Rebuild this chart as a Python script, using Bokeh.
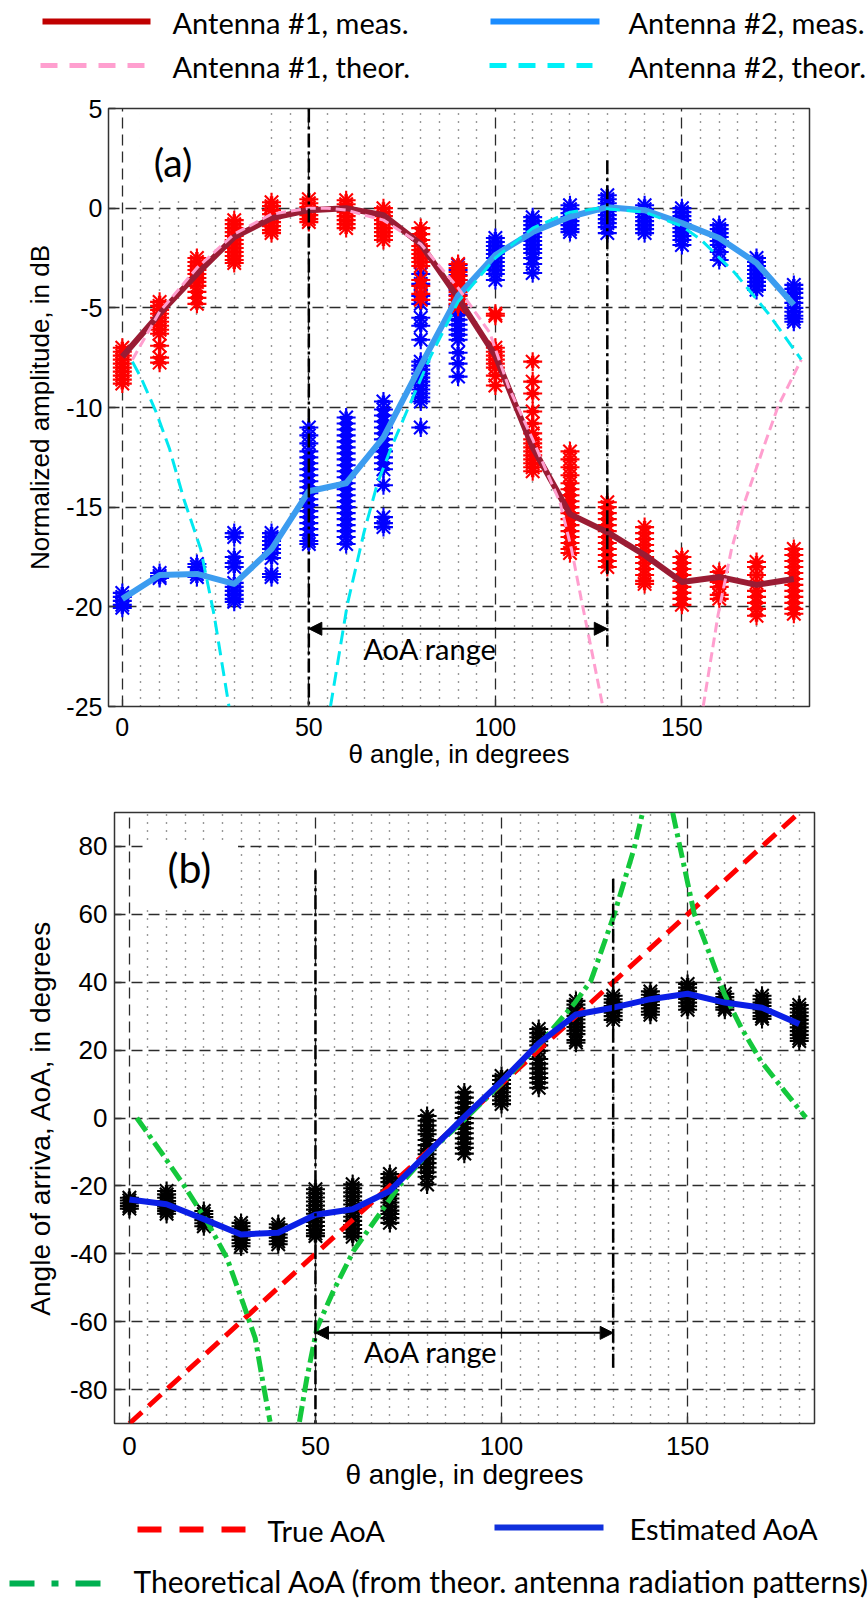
from bokeh.plotting import figure
from bokeh.models import Range1d, FixedTicker, Label, Arrow, NormalHead, BoxAnnotation
from bokeh.embed import file_html
from bokeh.resources import INLINE
from bokeh.core.properties import value

# ---------------- data ----------------
THETA = [0, 10, 20, 30, 40, 50, 60, 70, 80, 90, 100, 110, 120, 130, 140, 150, 160, 170, 180]

ANT1_MEAS = [-7.45, -5.3, -3.3, -1.45, -0.5, -0.1, 0.0, -0.35, -1.8, -4.5, -7.4, -12.0,
             -15.35, -16.25, -17.4, -18.75, -18.5, -18.9, -18.6]
ANT2_MEAS = [-19.6, -18.4, -18.35, -18.85, -17.1, -14.2, -13.8, -11.5, -7.9, -4.4, -2.35,
             -1.2, -0.43, 0.05, -0.1, -0.75, -1.5, -2.75, -4.85]

ANT1_THEOR_A_T = [2.7, 10, 20, 30, 40, 50, 55, 60, 70, 80, 90, 98.5, 103.5, 110, 117.3, 120.4, 123, 125.7, 128.8]
ANT1_THEOR_A_V = [-7.6, -5.2, -3.0, -1.3, -0.3, 0.0, 0.0, -0.1, -0.6, -1.8, -4.0, -6.25, -8.95, -11.6,
                  -14.75, -17.1, -19.6, -22.1, -25.0]
ANT1_THEOR_B_T = [155.7, 159.7, 163.3, 166.8, 171.7, 175.8, 182]
ANT1_THEOR_B_V = [-25.0, -20.4, -17.1, -14.75, -12.1, -9.93, -7.6]

ANT2_THEOR_A_T = [2.7, 5, 9, 12.7, 16.5, 21, 24.6, 28.6]
ANT2_THEOR_A_V = [-7.7, -8.5, -10.2, -12.1, -14.6, -17.1, -20.4, -25.0]
ANT2_THEOR_B_T = [55.8, 60.3, 64.8, 68.4, 71.9, 76, 82.6, 90, 100, 110, 120, 128, 140, 150, 155.2, 164.2, 173.1, 182]
ANT2_THEOR_B_V = [-25.0, -19.9, -16.25, -13.8, -12.1, -10.3, -7.45, -4.7, -2.5, -1.0, -0.2, 0.0, -0.2,
                  -0.9, -1.6, -3.25, -5.27, -7.6]

ANT1_SCATTER = [
    [-7.0, -7.2, -7.4, -7.6, -7.8, -8.0, -8.2, -8.4, -8.6, -8.8],
    [-4.7, -4.9, -5.1, -5.3, -5.5, -5.7, -5.9, -6.1, -6.3, -6.9, -7.5, -7.75],
    [-2.5, -2.7, -2.9, -3.1, -3.3, -3.5, -3.7, -3.9, -4.2, -4.5, -4.8],
    [-0.6, -0.8, -1.0, -1.2, -1.4, -1.6, -1.8, -2.0, -2.2, -2.4, -2.6, -2.75],
    [0.3, 0.1, -0.1, -0.3, -0.5, -0.7, -0.9, -1.1, -1.25],
    [0.45, 0.25, 0.05, -0.15, -0.35, -0.55, -0.7],
    [0.4, 0.2, 0.0, -0.2, -0.4, -0.6, -0.8, -1.0],
    [0.0, -0.2, -0.4, -0.6, -0.8, -1.0, -1.2, -1.4, -1.6],
    [-1.0, -1.3, -1.6, -1.9, -2.1, -2.3, -2.5, -2.7, -2.9, -3.6, -3.9, -4.3, -4.6],
    [-2.8, -3.0, -3.2, -3.4, -3.6, -3.8, -4.0, -4.2, -4.4, -4.6, -4.8, -4.95],
    [-5.3, -5.4, -7.0, -7.2, -7.4, -7.6, -7.8, -8.0, -8.4, -8.9],
    [-7.7, -8.7, -9.3, -10.2, -10.8, -11.3, -11.6, -11.8, -12.0, -12.2, -12.4, -12.6, -12.8, -13.0, -13.2],
    [-12.2, -12.6, -13.0, -13.4, -13.8, -14.1, -14.4, -14.7, -15.0, -15.3, -15.6, -15.9, -16.2, -16.5,
     -16.8, -17.1, -17.3],
    [-14.75, -15.0, -15.3, -15.6, -15.9, -16.2, -16.5, -16.8, -17.1, -17.4, -17.7, -18.0],
    [-16.0, -16.3, -16.6, -16.9, -17.2, -17.5, -17.8, -18.1, -18.4, -18.7, -18.85],
    [-17.5, -17.8, -18.1, -18.4, -18.7, -19.0, -19.3, -19.6, -19.9],
    [-18.25, -18.5, -18.75, -19.0, -19.4, -19.6],
    [-17.75, -18.0, -18.4, -18.8, -19.2, -19.5, -19.8, -20.1, -20.45],
    [-17.1, -17.4, -17.7, -18.0, -18.3, -18.6, -18.9, -19.2, -19.5, -19.8, -20.1, -20.35],
]

ANT2_SCATTER = [
    [-19.3, -19.5, -19.7, -19.9, -20.05],
    [-18.3, -18.45, -18.55],
    [-17.85, -18.0, -18.35, -18.5],
    [-16.3, -16.5, -17.5, -17.8, -18.0, -18.8, -19.0, -19.2, -19.4, -19.6, -19.75],
    [-16.3, -16.5, -16.7, -16.9, -17.1, -17.3, -17.55, -18.35, -18.5],
    [-11.0, -11.4, -11.8, -12.2, -12.5, -12.8, -13.1, -13.4, -13.7, -14.0, -14.3, -14.6, -14.9, -15.2,
     -15.5, -15.8, -16.1, -16.4, -16.7, -16.85],
    [-10.5, -10.8, -11.1, -11.4, -11.7, -12.0, -12.3, -12.6, -12.9, -13.2, -13.5, -13.8, -14.1, -14.4,
     -14.7, -15.0, -15.3, -15.6, -15.9, -16.2, -16.5, -16.85],
    [-9.7, -10.1, -10.4, -10.7, -11.0, -11.3, -11.6, -11.9, -12.2, -12.5, -12.8, -13.1, -13.9, -15.5,
     -15.8, -16.0],
    [-3.3, -3.8, -4.4, -4.8, -5.5, -5.9, -6.6, -7.7, -7.9, -8.1, -8.3, -8.5, -8.7, -8.9, -9.1, -9.3,
     -9.5, -9.7, -11.0],
    [-2.85, -3.1, -3.35, -3.6, -3.85, -4.1, -4.35, -4.6, -4.85, -5.1, -5.35, -5.6, -5.85, -6.1, -6.35,
     -6.6, -7.25, -7.8, -8.45],
    [-1.5, -1.7, -1.9, -2.1, -2.3, -2.5, -2.7, -2.9, -3.1, -3.3, -3.6],
    [-0.45, -0.65, -0.85, -1.05, -1.25, -1.45, -1.65, -1.85, -2.05, -2.25, -2.5, -2.8, -3.25],
    [0.15, -0.05, -0.25, -0.45, -0.65, -0.85, -1.05, -1.2],
    [0.65, 0.45, 0.25, 0.05, -0.15, -0.35, -0.55, -0.75, -0.95, -1.25],
    [0.15, -0.05, -0.25, -0.45, -0.65, -0.85, -1.05, -1.25],
    [0.0, -0.2, -0.4, -0.6, -0.8, -1.0, -1.2, -1.4, -1.6, -1.85],
    [-0.85, -1.05, -1.25, -1.45, -1.65, -1.85, -2.2, -2.6],
    [-2.5, -2.7, -2.9, -3.1, -3.3, -3.5, -3.7, -3.9, -4.1],
    [-3.85, -4.05, -4.25, -4.5, -4.75, -5.0, -5.2, -5.4, -5.55, -5.7],
]

AOA_TRUE_T = [0, 180]
AOA_TRUE_V = [-90, 90]
AOA_EST = [-24.0, -25.4, -29.8, -34.3, -33.8, -28.5, -26.9, -21.5, -10.5, 0.3, 10.8, 22.0, 30.5,
           32.5, 35.0, 36.6, 34.0, 32.5, 27.7]

AOA_THEOR_1_T = [2.0, 8.3, 14.5, 20.8, 26.2, 30.7, 33.8, 36.0, 37.8]
AOA_THEOR_1_V = [0.0, -9.7, -19.6, -30.4, -41.2, -55.0, -64.8, -78.6, -89.5]
AOA_THEOR_2_T = [45.7, 47.7, 50.4, 54.8, 60.2, 66.5, 72.8, 80, 90, 99.8, 110, 119.5, 124, 130.3, 135.7, 137.8]
AOA_THEOR_2_V = [-89.5, -76.6, -61.9, -51.0, -39.2, -29.4, -19.6, -10.7, -0.5, 10.0, 21.5, 33.6, 40.4,
                 60.0, 79.7, 89.5]
AOA_THEOR_3_T = [146, 151.8, 156.3, 159.9, 164.4, 169.7, 176, 181.8]
AOA_THEOR_3_V = [89.9, 60.1, 47.3, 36.5, 26.6, 16.8, 8.0, 0.1]

AOA_SCATTER = [
    [-23.5, -24.3, -25.1, -25.9, -26.7],
    [-21.5, -22.5, -23.5, -24.5, -25.3, -26.0, -26.7, -27.4, -28.2],
    [-27.4, -28.3, -29.2, -30.1, -31.0, -31.9],
    [-30.9, -31.9, -32.9, -33.9, -34.9, -35.9, -36.9, -37.8],
    [-31.3, -32.3, -33.3, -34.3, -35.3, -36.3, -37.2],
    [-21.0, -22.2, -23.4, -24.6, -25.8, -27.0, -28.2, -29.4, -30.6, -31.8, -33.0, -34.0, -34.8],
    [-19.5, -20.7, -21.9, -23.1, -24.3, -25.5, -26.7, -27.9, -29.1, -30.3, -31.5, -32.7, -33.9, -35.0],
    [-16.5, -17.7, -18.9, -20.1, -21.3, -22.5, -23.7, -24.9, -26.1, -27.3, -28.3, -29.5, -30.9],
    [0.6, -0.8, -2.2, -3.6, -4.8, -6.5, -8.0, -9.5, -10.7, -12.0, -13.3, -14.6, -16.0, -17.3, -19.6],
    [7.5, 6.0, 4.5, 3.0, 1.5, 0.0, -1.5, -3.0, -4.5, -6.0, -7.5, -8.8, -10.5],
    [12.4, 11.2, 10.0, 8.8, 7.6, 6.4, 5.2, 4.1],
    [26.2, 25.0, 23.8, 22.6, 21.4, 19.8, 17.4, 16.0, 14.6, 13.2, 11.8, 10.4, 8.9],
    [34.5, 33.4, 32.3, 31.2, 30.1, 29.0, 27.9, 26.8, 25.7, 24.7, 23.0, 22.2],
    [36.0, 35.0, 34.0, 33.0, 32.0, 31.0, 30.0, 28.9],
    [37.3, 36.3, 35.3, 34.3, 33.3, 32.3, 31.3, 30.4],
    [39.5, 38.4, 37.3, 36.2, 35.1, 34.0, 32.9, 31.9],
    [36.6, 35.6, 34.6, 33.6, 32.6, 31.9],
    [36.0, 35.0, 34.0, 33.0, 32.0, 31.0, 30.0, 29.2],
    [33.3, 32.2, 31.1, 30.0, 28.9, 27.8, 26.7, 25.6, 24.5, 23.5, 22.7],
]

AOA_RANGE = [50, 130]
X_TICKS = [0, 50, 100, 150]
X_MINOR = [5, 10, 15, 20, 25, 30, 35, 40, 45, 55, 60, 65, 70, 75, 80, 85, 90, 95,
           105, 110, 115, 120, 125, 130, 135, 140, 145, 155, 160, 165, 170, 175, 180]
Y_TICKS_A = [-25, -20, -15, -10, -5, 0, 5]
Y_TICKS_B = [-80, -60, -40, -20, 0, 20, 40, 60, 80]

AXIS_FONT = "Liberation Sans"
NOTE_FONT = "Lato"


def flatten(lists):
    xs, ys = [], []
    for t, vals in zip(THETA, lists):
        for v in vals:
            xs.append(t)
            ys.append(v)
    return xs, ys


def style(p, yticks, ylabel, tick_size, lab_size, ylab_standoff, tick_standoff, xlab_standoff):
    p.outline_line_color = "#333333"
    p.outline_line_width = 1.5
    p.xaxis.ticker = FixedTicker(ticks=X_TICKS)
    p.yaxis.ticker = FixedTicker(ticks=yticks)
    p.xaxis.major_label_overrides = {t: str(t) for t in X_TICKS}
    p.yaxis.major_label_overrides = {t: str(t) for t in yticks}
    p.xgrid.ticker = FixedTicker(ticks=X_TICKS, minor_ticks=X_MINOR)
    p.ygrid.ticker = FixedTicker(ticks=yticks)
    for g in (p.xgrid, p.ygrid):
        g.grid_line_color = "#2b2b2b"
        g.grid_line_width = 1.3
        g.grid_line_dash = "11 6"
    p.xgrid.minor_grid_line_color = "#333333"
    p.xgrid.minor_grid_line_width = 1.4
    p.xgrid.minor_grid_line_dash = "1 7"
    for ax in (p.xaxis, p.yaxis):
        ax.axis_line_color = None
        ax.major_tick_in = 7
        ax.major_tick_out = 0
        ax.major_tick_line_color = "#333333"
        ax.major_tick_line_width = 1.3
        ax.minor_tick_line_color = None
        ax.major_label_text_font = AXIS_FONT
        ax.major_label_text_font_size = tick_size
        ax.major_label_text_color = "black"
        ax.axis_label_text_font = AXIS_FONT
        ax.axis_label_text_font_size = lab_size
        ax.axis_label_text_font_style = "normal"
        ax.axis_label_text_color = "black"
    p.yaxis.major_label_standoff = 6
    p.xaxis.major_label_standoff = tick_standoff
    p.yaxis.axis_label = ylabel
    p.yaxis.axis_label_standoff = ylab_standoff
    p.xaxis.axis_label = "\u03b8 angle, in degrees"
    p.xaxis.axis_label_standoff = xlab_standoff
    p.background_fill_color = "white"
    p.border_fill_color = "white"


def blank(h):
    f = figure(width=868, height=h, x_range=Range1d(0, 868), y_range=Range1d(h, 0),
               output_backend="svg", toolbar_location=None, title=None,
               x_axis_type=None, y_axis_type=None, min_border=0)
    f.outline_line_color = None
    f.grid.visible = False
    f.background_fill_color = "white"
    f.border_fill_color = "white"
    return f


def blobs(p, xs, ys, color):
    # dense measurement clusters: asterisks with a filled core
    p.scatter(xs, ys, marker="asterisk", size=19, line_color=color, line_width=2.1)
    p.scatter(xs, ys, marker="cross", size=12, line_color=color, line_width=3.5)


# ---------------- top legend ----------------
leg_top = blank(90)
leg_top.line([42, 150], [21, 21], line_color="#c00000", line_width=6)
leg_top.line([490, 599], [21, 21], line_color="#1a8cff", line_width=6)
leg_top.line([40, 144], [65, 65], line_color="#ff9fcf", line_width=5, line_dash="17 12")
leg_top.line([489, 592], [65, 65], line_color="#00f0f8", line_width=5, line_dash="17 12")
leg_top.text(x=[172, 628, 172, 628], y=[22, 22, 66, 66],
             text=["Antenna #1, meas.", "Antenna #2, meas.", "Antenna #1, theor.", "Antenna #2, theor."],
             text_font=value(NOTE_FONT), text_font_size="29px", text_baseline="middle",
             text_align="left", text_color="black")

# ---------------- panel (a) ----------------
pa = figure(width=868, height=688, x_range=Range1d(-3.7, 184.2), y_range=Range1d(-25, 5),
            output_backend="svg", toolbar_location=None, title=None,
            min_border_left=108, min_border_right=59, min_border_top=18, min_border_bottom=72)
style(pa, Y_TICKS_A, "Normalized amplitude, in dB", "25px", "26px", 8, 11, 0)

pa.add_layout(BoxAnnotation(left=4.5, right=36, bottom=0.6, top=4.9, fill_color="white",
                            fill_alpha=1.0, line_color=None))

bx, by = flatten(ANT2_SCATTER)
blobs(pa, bx, by, "#0000ff")
rx, ry = flatten(ANT1_SCATTER)
blobs(pa, rx, ry, "#ff0000")

pa.line(THETA, ANT1_MEAS, line_color="#9a1c34", line_width=6, line_join="round")
pa.line(THETA, ANT2_MEAS, line_color="#3c9cf0", line_width=6, line_join="round")
pa.line(ANT1_THEOR_A_T, ANT1_THEOR_A_V, line_color="#ff9fcf", line_width=3, line_dash="10 5")
pa.line(ANT1_THEOR_B_T, ANT1_THEOR_B_V, line_color="#ff9fcf", line_width=3, line_dash="10 5")
pa.line(ANT2_THEOR_A_T, ANT2_THEOR_A_V, line_color="#00e8f0", line_width=3, line_dash="14 7")
pa.line(ANT2_THEOR_B_T, ANT2_THEOR_B_V, line_color="#00e8f0", line_width=3, line_dash="14 7")

pa.segment(x0=AOA_RANGE, y0=[5, 2.4], x1=AOA_RANGE, y1=[-25, -22], line_color="black",
           line_width=2.5, line_dash="14 4 3 4")
pa.add_layout(Arrow(start=NormalHead(size=13, fill_color="black", line_color="black"),
                    end=NormalHead(size=13, fill_color="black", line_color="black"),
                    x_start=AOA_RANGE[0], y_start=-21.1, x_end=AOA_RANGE[1], y_end=-21.1,
                    line_width=2, line_color="black"))
pa.add_layout(Label(x=82.5, y=-22.1, text="AoA range", text_font=NOTE_FONT, text_font_size="29px",
                    text_align="center", text_baseline="middle", text_color="black"))
pa.add_layout(Label(x=13.6, y=2.3, text="(a)", text_font=NOTE_FONT, text_font_size="39px",
                    text_align="center", text_baseline="middle", text_color="black"))

# ---------------- panel (b) ----------------
pb = figure(width=868, height=722, x_range=Range1d(-4.0, 184.1), y_range=Range1d(-90, 90),
            output_backend="svg", toolbar_location=None, title=None,
            min_border_left=114, min_border_right=54, min_border_top=34, min_border_bottom=77)
style(pb, Y_TICKS_B, "Angle of arriva, AoA, in degrees", "26px", "28px", 11, 13, 1)
pb.yaxis.major_label_standoff = 7

pb.add_layout(BoxAnnotation(left=3.7, right=29.2, bottom=62, top=81, fill_color="white",
                            fill_alpha=1.0, line_color=None))

kx, ky = flatten(AOA_SCATTER)
blobs(pb, kx, ky, "black")

pb.line(AOA_TRUE_T, AOA_TRUE_V, line_color="#ff0000", line_width=5, line_dash="17 9")
pb.line(AOA_THEOR_1_T, AOA_THEOR_1_V, line_color="#14c83c", line_width=5, line_dash="16 5 4 5")
pb.line(AOA_THEOR_2_T, AOA_THEOR_2_V, line_color="#14c83c", line_width=5, line_dash="16 5 4 5")
pb.line(AOA_THEOR_3_T, AOA_THEOR_3_V, line_color="#14c83c", line_width=5, line_dash="16 5 4 5")
pb.line(THETA, AOA_EST, line_color="#0a1ee6", line_width=6, line_join="round")

pb.segment(x0=AOA_RANGE, y0=[73, 70.5], x1=AOA_RANGE, y1=[-90, -73.6], line_color="black",
           line_width=2.5, line_dash="14 4 3 4")
pb.add_layout(Arrow(start=NormalHead(size=13, fill_color="black", line_color="black"),
                    end=NormalHead(size=13, fill_color="black", line_color="black"),
                    x_start=AOA_RANGE[0], y_start=-63.3, x_end=AOA_RANGE[1], y_end=-63.3,
                    line_width=2, line_color="black"))
pb.add_layout(Label(x=81, y=-68.9, text="AoA range", text_font=NOTE_FONT, text_font_size="29px",
                    text_align="center", text_baseline="middle", text_color="black"))
pb.add_layout(Label(x=16.1, y=73.7, text="(b)", text_font=NOTE_FONT, text_font_size="41px",
                    text_align="center", text_baseline="middle", text_color="black"))

# ---------------- bottom legend ----------------
leg_bot = blank(99)
leg_bot.line([137, 246], [29, 29], line_color="#ff0000", line_width=6, line_dash="24 18")
leg_bot.line([494, 603], [27, 27], line_color="#1030dc", line_width=6)
leg_bot.line([9, 101], [83, 83], line_color="#00b050", line_width=6, line_dash="25 17 7 17")
leg_bot.text(x=[267, 629], y=[30, 28], text=["True AoA", "Estimated AoA"],
             text_font=value(NOTE_FONT), text_font_size="29px", text_baseline="middle",
             text_align="left", text_color="black")
leg_bot.text(x=[133], y=[80], text=["Theoretical AoA (from theor. antenna radiation patterns)"],
             text_font=value(NOTE_FONT), text_font_size="30px", text_baseline="middle",
             text_align="left", text_color="black")

html = file_html([leg_top, pa, pb, leg_bot], INLINE, title="AoA")
css = ("<style>html,body{margin:0;padding:0;}"
       "body{display:flex;flex-direction:column;align-items:flex-start;}</style>")
html = html.replace("<head>", "<head>" + css, 1)
open("out.html", "w").write(html)
